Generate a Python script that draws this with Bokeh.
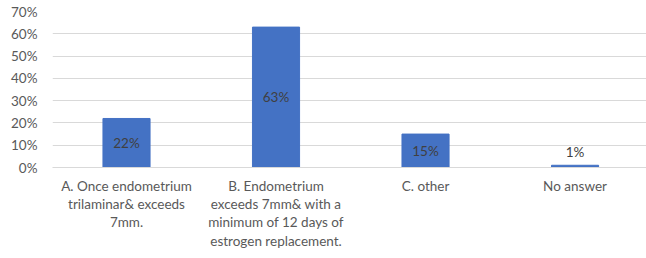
from bokeh.plotting import figure
from bokeh.models import FixedTicker, Range1d, ColumnDataSource, NumeralTickFormatter
from bokeh.core.properties import value
from bokeh.embed import file_html
from bokeh.resources import INLINE

categories = ["A. Once endometrium\ntrilaminar& exceeds\n7mm.",
              "B. Endometrium\nexceeds 7mm& with a\nminimum of 12 days of\nestrogen replacement.",
              "C. other",
              "No answer"]
values = [0.22, 0.63, 0.15, 0.01]
labels = ["22%", "63%", "15%", "1%"]
y_ticks = [0, 0.1, 0.2, 0.3, 0.4, 0.5, 0.6, 0.7]

FONT = "Lato"
xs = [i + 0.5 for i in range(len(categories))]
label_y = [v / 2 if v > 0.05 else v for v in values]
label_off = [0 if v > 0.05 else -13 for v in values]

p = figure(width=646, height=258, output_backend="svg", toolbar_location=None,
           x_range=Range1d(0.005, 3.978), y_range=Range1d(0, 0.7),
           min_border_left=52, min_border_right=0, min_border_top=11, min_border_bottom=91)
p.outline_line_color = None
p.background_fill_color = "white"
p.border_fill_color = "white"

src = ColumnDataSource(dict(x=xs, top=values, ly=label_y, lab=labels, off=label_off))
p.vbar(x="x", top="top", width=0.315, color="#4472C4", source=src)
p.text(x="x", y="ly", text="lab", y_offset="off", source=src, text_align="center",
       text_baseline="middle", text_color="#404040", text_font_size="13.5px",
       text_font=value(FONT))

p.xgrid.visible = False
p.ygrid.grid_line_color = "#d9d9d9"
p.ygrid.grid_line_width = 1

p.yaxis.ticker = FixedTicker(ticks=y_ticks)
p.yaxis.formatter = NumeralTickFormatter(format="0%")
p.yaxis.axis_line_color = None
p.yaxis.major_tick_line_color = None
p.yaxis.minor_tick_line_color = None
p.yaxis.major_tick_out = 0
p.yaxis.major_label_standoff = 15
p.yaxis.major_label_text_font_size = "13.5px"
p.yaxis.major_label_text_color = "#595959"
p.yaxis.major_label_text_font = FONT

p.xaxis.ticker = FixedTicker(ticks=xs)
p.xaxis.major_label_overrides = {x: c for x, c in zip(xs, categories)}
p.xaxis.axis_line_color = "#d9d9d9"
p.xaxis.major_tick_line_color = None
p.xaxis.minor_tick_line_color = None
p.xaxis.major_tick_out = 0
p.xaxis.major_label_standoff = 10
p.xaxis.major_label_text_font_size = "13.5px"
p.xaxis.major_label_text_color = "#595959"
p.xaxis.major_label_text_font = FONT
p.xaxis.major_label_text_line_height = 1.15

open("out.html", "w").write(file_html(p, INLINE))
